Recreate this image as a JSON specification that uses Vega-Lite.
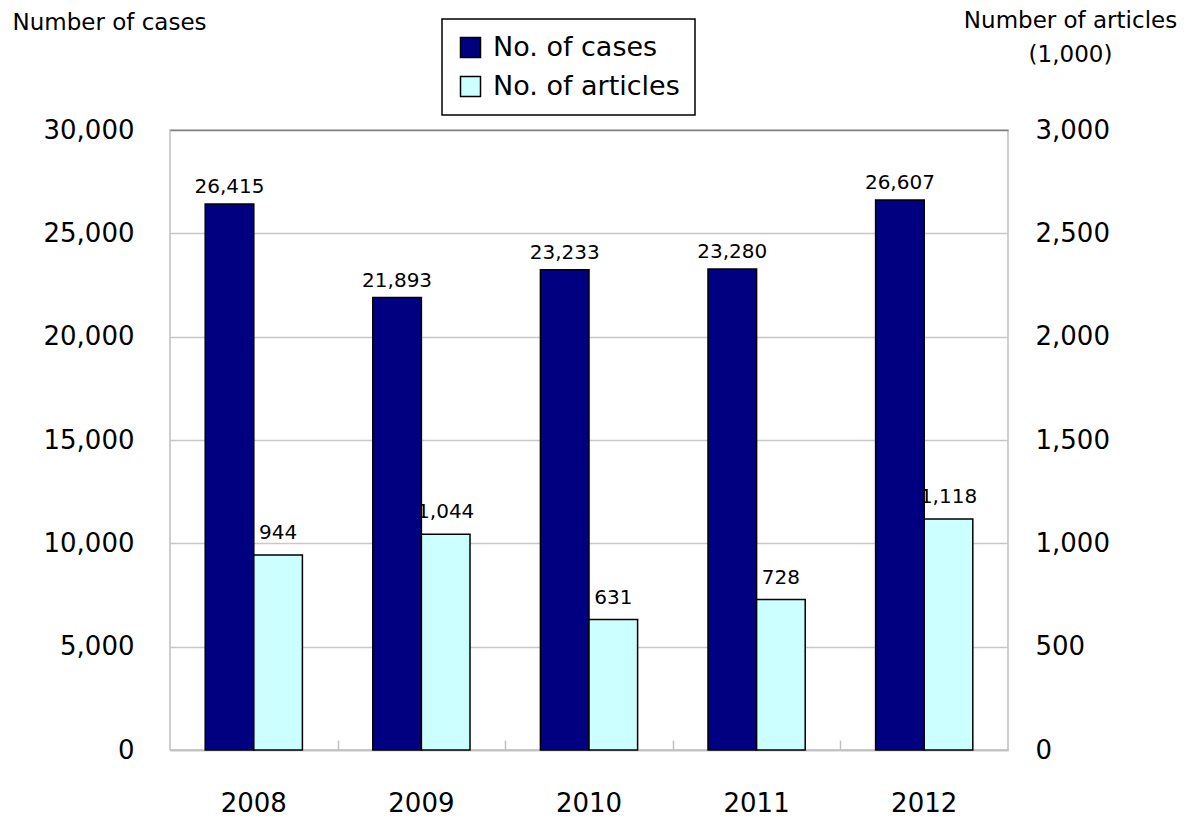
{
  "$schema": "https://vega.github.io/schema/vega-lite/v6.json",
  "autosize": "none",
  "width": 838,
  "height": 620,
  "padding": {"left": 170, "top": 130, "right": 187, "bottom": 70},
  "config": {
    "font": "DejaVu Sans",
    "view": {"stroke": "#c0c0c0", "strokeWidth": 1.5},
    "legend": {
      "orient": "none",
      "legendX": 272,
      "legendY": -111,
      "strokeColor": "black",
      "strokeWidth": 1.5,
      "padding": 15,
      "symbolType": "square",
      "symbolSize": 400,
      "symbolStrokeColor": "black",
      "symbolStrokeWidth": 1.5,
      "symbolFillOpacity": 1,
      "labelFontSize": 27,
      "labelColor": "black",
      "labelOffset": 9,
      "labelLimit": 400,
      "rowPadding": 11
    }
  },
  "data": {
    "values": [
      {"year": "2008", "series": "No. of cases", "value": 26415},
      {"year": "2009", "series": "No. of cases", "value": 21893},
      {"year": "2010", "series": "No. of cases", "value": 23233},
      {"year": "2011", "series": "No. of cases", "value": 23280},
      {"year": "2012", "series": "No. of cases", "value": 26607},
      {"year": "2008", "series": "No. of articles", "value": 944},
      {"year": "2009", "series": "No. of articles", "value": 1044},
      {"year": "2010", "series": "No. of articles", "value": 631},
      {"year": "2011", "series": "No. of articles", "value": 728},
      {"year": "2012", "series": "No. of articles", "value": 1118}
    ]
  },
  "encoding": {
    "x": {
      "field": "year",
      "type": "ordinal",
      "scale": {"paddingInner": 0.42, "paddingOuter": 0.21},
      "axis": {
        "orient": "bottom",
        "title": null,
        "labelAngle": 0,
        "labelFontSize": 26,
        "labelColor": "black",
        "labelBaseline": "top",
        "labelPadding": 40,
        "domainColor": "#c0c0c0",
        "domainWidth": 1.5,
        "ticks": false
      }
    },
    "xOffset": {
      "field": "series",
      "type": "nominal",
      "scale": {"domain": ["No. of cases", "No. of articles"], "paddingInner": 0, "paddingOuter": 0}
    }
  },
  "layer": [
    {
      "transform": [{"filter": "datum.series === 'No. of cases'"}],
      "encoding": {
        "y": {
          "field": "value",
          "type": "quantitative",
          "scale": {"domain": [0, 30000], "nice": false},
          "axis": {
            "orient": "left",
            "values": [0, 5000, 10000, 15000, 20000, 25000, 30000],
            "format": ",d",
            "title": "Number of cases",
            "titleAngle": 0,
            "titleAlign": "left",
            "titleBaseline": "alphabetic",
            "titleX": -158,
            "titleY": -101,
            "titleFontSize": 23,
            "titleFontWeight": "normal",
            "titleColor": "black",
            "labelFontSize": 26,
            "labelColor": "black",
            "labelPadding": 36,
            "ticks": false,
            "domain": false,
            "grid": true,
            "gridColor": {"condition": {"test": "datum.value === 30000", "value": "#808080"}, "value": "#c8c8c8"},
            "gridWidth": 1.5
          }
        }
      },
      "layer": [
        {
          "mark": {"type": "bar", "stroke": "black", "strokeWidth": 1.5},
          "encoding": {
            "color": {
              "field": "series",
              "type": "nominal",
              "scale": {"domain": ["No. of cases", "No. of articles"], "range": ["#000080", "#ccffff"]},
              "legend": {"title": null}
            }
          }
        },
        {
          "mark": {"type": "text", "baseline": "alphabetic", "dy": -11, "fontSize": 20, "color": "black"},
          "encoding": {"text": {"field": "value", "type": "quantitative", "format": ",d"}}
        }
      ]
    },
    {
      "transform": [{"filter": "datum.series === 'No. of articles'"}],
      "encoding": {
        "x": {
          "field": "year",
          "type": "ordinal",
          "axis": {
            "orient": "bottom",
            "title": null,
            "labels": false,
            "domain": false,
            "grid": false,
            "offset": -10,
            "values": ["2008", "2009", "2010", "2011"],
            "tickOffset": 83.8,
            "tickSize": 10,
            "tickColor": "#c0c0c0",
            "tickWidth": 1.5
          }
        },
        "y": {
          "field": "value",
          "type": "quantitative",
          "scale": {"domain": [0, 3000], "nice": false},
          "axis": {
            "orient": "right",
            "values": [0, 500, 1000, 1500, 2000, 2500, 3000],
            "format": ",d",
            "title": ["Number of articles", "(1,000)"],
            "titleAngle": 0,
            "titleAlign": "center",
            "titleBaseline": "alphabetic",
            "titleX": 62,
            "titleY": -103,
            "titleLineHeight": 34,
            "titleFontSize": 23,
            "titleFontWeight": "normal",
            "titleColor": "black",
            "labelFontSize": 26,
            "labelColor": "black",
            "labelPadding": 27,
            "ticks": false,
            "domain": false,
            "grid": false
          }
        }
      },
      "layer": [
        {
          "mark": {"type": "bar", "stroke": "black", "strokeWidth": 1.5},
          "encoding": {
            "color": {
              "field": "series",
              "type": "nominal",
              "scale": {"domain": ["No. of cases", "No. of articles"], "range": ["#000080", "#ccffff"]},
              "legend": {"title": null}
            }
          }
        },
        {
          "mark": {"type": "text", "baseline": "alphabetic", "dy": -16, "fontSize": 20, "color": "black"},
          "encoding": {"text": {"field": "value", "type": "quantitative", "format": ",d"}}
        }
      ]
    }
  ],
  "resolve": {"scale": {"y": "independent"}, "axis": {"x": "independent"}}
}
